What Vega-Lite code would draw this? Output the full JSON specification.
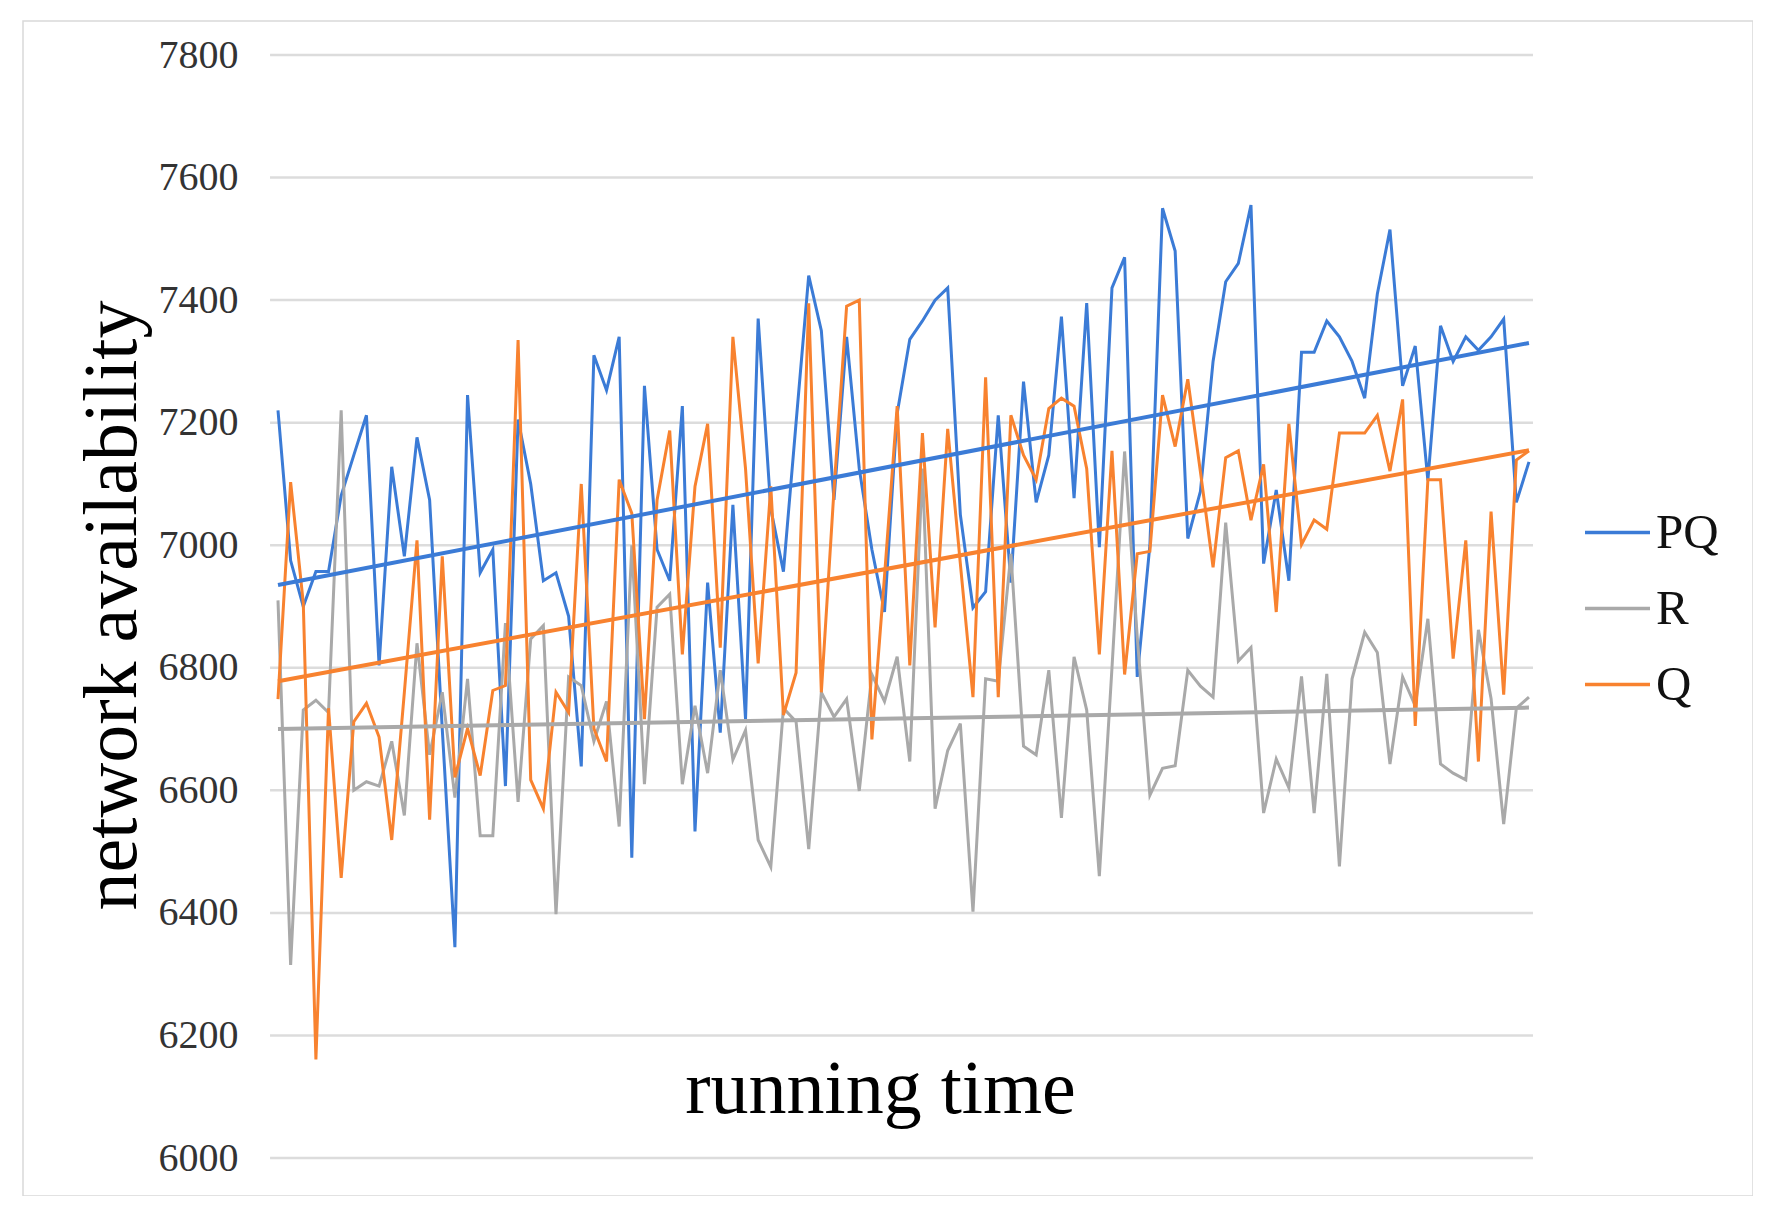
{
  "$schema": "https://vega.github.io/schema/vega-lite/v6.json",
  "autosize": {"type": "none"},
  "padding": {"left": 23, "top": 21, "right": 0, "bottom": 0},
  "width": 1730,
  "height": 1175,
  "background": "white",
  "config": {
    "view": {"stroke": "#D9D9D9", "strokeWidth": 1.5},
    "font": "Liberation Serif"
  },
  "datasets": {
    "grid": [
      {"v": 6000}, {"v": 6200}, {"v": 6400}, {"v": 6600}, {"v": 6800},
      {"v": 7000}, {"v": 7200}, {"v": 7400}, {"v": 7600}, {"v": 7800}
    ],
    "trend": [
      {"s": "PQ", "i": 0, "v": 6935}, {"s": "PQ", "i": 99, "v": 7330},
      {"s": "R", "i": 0, "v": 6700}, {"s": "R", "i": 99, "v": 6735},
      {"s": "Q", "i": 0, "v": 6778}, {"s": "Q", "i": 99, "v": 7155}
    ],
    "series": [
      {"s":"PQ","i":0,"v":7220},{"s":"PQ","i":1,"v":6975},{"s":"PQ","i":2,"v":6900},{"s":"PQ","i":3,"v":6957},{"s":"PQ","i":4,"v":6957},
      {"s":"PQ","i":5,"v":7081},{"s":"PQ","i":6,"v":7147},{"s":"PQ","i":7,"v":7212},{"s":"PQ","i":8,"v":6804},{"s":"PQ","i":9,"v":7128},
      {"s":"PQ","i":10,"v":6982},{"s":"PQ","i":11,"v":7176},{"s":"PQ","i":12,"v":7074},{"s":"PQ","i":13,"v":6700},{"s":"PQ","i":14,"v":6344},
      {"s":"PQ","i":15,"v":7245},{"s":"PQ","i":16,"v":6955},{"s":"PQ","i":17,"v":6993},{"s":"PQ","i":18,"v":6607},{"s":"PQ","i":19,"v":7205},
      {"s":"PQ","i":20,"v":7100},{"s":"PQ","i":21,"v":6942},{"s":"PQ","i":22,"v":6955},{"s":"PQ","i":23,"v":6884},{"s":"PQ","i":24,"v":6639},
      {"s":"PQ","i":25,"v":7310},{"s":"PQ","i":26,"v":7253},{"s":"PQ","i":27,"v":7340},{"s":"PQ","i":28,"v":6490},{"s":"PQ","i":29,"v":7260},
      {"s":"PQ","i":30,"v":6993},{"s":"PQ","i":31,"v":6942},{"s":"PQ","i":32,"v":7227},{"s":"PQ","i":33,"v":6533},{"s":"PQ","i":34,"v":6939},
      {"s":"PQ","i":35,"v":6694},{"s":"PQ","i":36,"v":7066},{"s":"PQ","i":37,"v":6716},{"s":"PQ","i":38,"v":7370},{"s":"PQ","i":39,"v":7059},
      {"s":"PQ","i":40,"v":6957},{"s":"PQ","i":41,"v":7200},{"s":"PQ","i":42,"v":7440},{"s":"PQ","i":43,"v":7350},{"s":"PQ","i":44,"v":7074},
      {"s":"PQ","i":45,"v":7340},{"s":"PQ","i":46,"v":7125},{"s":"PQ","i":47,"v":6993},{"s":"PQ","i":48,"v":6891},{"s":"PQ","i":49,"v":7215},
      {"s":"PQ","i":50,"v":7336},{"s":"PQ","i":51,"v":7366},{"s":"PQ","i":52,"v":7400},{"s":"PQ","i":53,"v":7420},{"s":"PQ","i":54,"v":7050},
      {"s":"PQ","i":55,"v":6898},{"s":"PQ","i":56,"v":6924},{"s":"PQ","i":57,"v":7212},{"s":"PQ","i":58,"v":6939},{"s":"PQ","i":59,"v":7267},
      {"s":"PQ","i":60,"v":7070},{"s":"PQ","i":61,"v":7147},{"s":"PQ","i":62,"v":7373},{"s":"PQ","i":63,"v":7077},{"s":"PQ","i":64,"v":7395},
      {"s":"PQ","i":65,"v":6997},{"s":"PQ","i":66,"v":7420},{"s":"PQ","i":67,"v":7470},{"s":"PQ","i":68,"v":6785},{"s":"PQ","i":69,"v":7000},
      {"s":"PQ","i":70,"v":7550},{"s":"PQ","i":71,"v":7480},{"s":"PQ","i":72,"v":7011},{"s":"PQ","i":73,"v":7088},{"s":"PQ","i":74,"v":7300},
      {"s":"PQ","i":75,"v":7430},{"s":"PQ","i":76,"v":7460},{"s":"PQ","i":77,"v":7555},{"s":"PQ","i":78,"v":6970},{"s":"PQ","i":79,"v":7090},
      {"s":"PQ","i":80,"v":6942},{"s":"PQ","i":81,"v":7315},{"s":"PQ","i":82,"v":7315},{"s":"PQ","i":83,"v":7366},{"s":"PQ","i":84,"v":7340},
      {"s":"PQ","i":85,"v":7300},{"s":"PQ","i":86,"v":7240},{"s":"PQ","i":87,"v":7410},{"s":"PQ","i":88,"v":7515},{"s":"PQ","i":89,"v":7260},
      {"s":"PQ","i":90,"v":7325},{"s":"PQ","i":91,"v":7106},{"s":"PQ","i":92,"v":7358},{"s":"PQ","i":93,"v":7300},{"s":"PQ","i":94,"v":7340},
      {"s":"PQ","i":95,"v":7318},{"s":"PQ","i":96,"v":7340},{"s":"PQ","i":97,"v":7369},{"s":"PQ","i":98,"v":7070},{"s":"PQ","i":99,"v":7136},

      {"s":"R","i":0,"v":6910},{"s":"R","i":1,"v":6315},{"s":"R","i":2,"v":6731},{"s":"R","i":3,"v":6747},{"s":"R","i":4,"v":6727},
      {"s":"R","i":5,"v":7220},{"s":"R","i":6,"v":6600},{"s":"R","i":7,"v":6614},{"s":"R","i":8,"v":6607},{"s":"R","i":9,"v":6680},
      {"s":"R","i":10,"v":6559},{"s":"R","i":11,"v":6840},{"s":"R","i":12,"v":6658},{"s":"R","i":13,"v":6760},{"s":"R","i":14,"v":6588},
      {"s":"R","i":15,"v":6782},{"s":"R","i":16,"v":6526},{"s":"R","i":17,"v":6526},{"s":"R","i":18,"v":6873},{"s":"R","i":19,"v":6581},
      {"s":"R","i":20,"v":6847},{"s":"R","i":21,"v":6869},{"s":"R","i":22,"v":6398},{"s":"R","i":23,"v":6785},{"s":"R","i":24,"v":6771},
      {"s":"R","i":25,"v":6680},{"s":"R","i":26,"v":6745},{"s":"R","i":27,"v":6541},{"s":"R","i":28,"v":7000},{"s":"R","i":29,"v":6610},
      {"s":"R","i":30,"v":6899},{"s":"R","i":31,"v":6920},{"s":"R","i":32,"v":6610},{"s":"R","i":33,"v":6738},{"s":"R","i":34,"v":6628},
      {"s":"R","i":35,"v":6796},{"s":"R","i":36,"v":6650},{"s":"R","i":37,"v":6698},{"s":"R","i":38,"v":6519},{"s":"R","i":39,"v":6475},
      {"s":"R","i":40,"v":6734},{"s":"R","i":41,"v":6712},{"s":"R","i":42,"v":6504},{"s":"R","i":43,"v":6760},{"s":"R","i":44,"v":6720},
      {"s":"R","i":45,"v":6749},{"s":"R","i":46,"v":6599},{"s":"R","i":47,"v":6789},{"s":"R","i":48,"v":6745},{"s":"R","i":49,"v":6818},
      {"s":"R","i":50,"v":6647},{"s":"R","i":51,"v":7125},{"s":"R","i":52,"v":6570},{"s":"R","i":53,"v":6665},{"s":"R","i":54,"v":6709},
      {"s":"R","i":55,"v":6402},{"s":"R","i":56,"v":6782},{"s":"R","i":57,"v":6778},{"s":"R","i":58,"v":6986},{"s":"R","i":59,"v":6672},
      {"s":"R","i":60,"v":6658},{"s":"R","i":61,"v":6796},{"s":"R","i":62,"v":6555},{"s":"R","i":63,"v":6818},{"s":"R","i":64,"v":6731},
      {"s":"R","i":65,"v":6460},{"s":"R","i":66,"v":6800},{"s":"R","i":67,"v":7153},{"s":"R","i":68,"v":6850},{"s":"R","i":69,"v":6592},
      {"s":"R","i":70,"v":6636},{"s":"R","i":71,"v":6640},{"s":"R","i":72,"v":6796},{"s":"R","i":73,"v":6770},{"s":"R","i":74,"v":6752},
      {"s":"R","i":75,"v":7037},{"s":"R","i":76,"v":6811},{"s":"R","i":77,"v":6833},{"s":"R","i":78,"v":6563},{"s":"R","i":79,"v":6651},
      {"s":"R","i":80,"v":6604},{"s":"R","i":81,"v":6786},{"s":"R","i":82,"v":6563},{"s":"R","i":83,"v":6790},{"s":"R","i":84,"v":6476},
      {"s":"R","i":85,"v":6782},{"s":"R","i":86,"v":6858},{"s":"R","i":87,"v":6825},{"s":"R","i":88,"v":6643},{"s":"R","i":89,"v":6785},
      {"s":"R","i":90,"v":6738},{"s":"R","i":91,"v":6880},{"s":"R","i":92,"v":6643},{"s":"R","i":93,"v":6628},{"s":"R","i":94,"v":6617},
      {"s":"R","i":95,"v":6862},{"s":"R","i":96,"v":6750},{"s":"R","i":97,"v":6545},{"s":"R","i":98,"v":6734},{"s":"R","i":99,"v":6752},

      {"s":"Q","i":0,"v":6749},{"s":"Q","i":1,"v":7103},{"s":"Q","i":2,"v":6906},{"s":"Q","i":3,"v":6161},{"s":"Q","i":4,"v":6734},
      {"s":"Q","i":5,"v":6457},{"s":"Q","i":6,"v":6712},{"s":"Q","i":7,"v":6742},{"s":"Q","i":8,"v":6687},{"s":"Q","i":9,"v":6519},
      {"s":"Q","i":10,"v":6760},{"s":"Q","i":11,"v":7008},{"s":"Q","i":12,"v":6552},{"s":"Q","i":13,"v":6982},{"s":"Q","i":14,"v":6621},
      {"s":"Q","i":15,"v":6701},{"s":"Q","i":16,"v":6624},{"s":"Q","i":17,"v":6763},{"s":"Q","i":18,"v":6771},{"s":"Q","i":19,"v":7335},
      {"s":"Q","i":20,"v":6617},{"s":"Q","i":21,"v":6570},{"s":"Q","i":22,"v":6760},{"s":"Q","i":23,"v":6727},{"s":"Q","i":24,"v":7100},
      {"s":"Q","i":25,"v":6701},{"s":"Q","i":26,"v":6647},{"s":"Q","i":27,"v":7107},{"s":"Q","i":28,"v":7052},{"s":"Q","i":29,"v":6716},
      {"s":"Q","i":30,"v":7074},{"s":"Q","i":31,"v":7187},{"s":"Q","i":32,"v":6822},{"s":"Q","i":33,"v":7096},{"s":"Q","i":34,"v":7198},
      {"s":"Q","i":35,"v":6833},{"s":"Q","i":36,"v":7340},{"s":"Q","i":37,"v":7125},{"s":"Q","i":38,"v":6807},{"s":"Q","i":39,"v":7096},
      {"s":"Q","i":40,"v":6723},{"s":"Q","i":41,"v":6792},{"s":"Q","i":42,"v":7395},{"s":"Q","i":43,"v":6760},{"s":"Q","i":44,"v":7090},
      {"s":"Q","i":45,"v":7390},{"s":"Q","i":46,"v":7400},{"s":"Q","i":47,"v":6683},{"s":"Q","i":48,"v":6950},{"s":"Q","i":49,"v":7227},
      {"s":"Q","i":50,"v":6804},{"s":"Q","i":51,"v":7183},{"s":"Q","i":52,"v":6866},{"s":"Q","i":53,"v":7190},{"s":"Q","i":54,"v":6970},
      {"s":"Q","i":55,"v":6752},{"s":"Q","i":56,"v":7274},{"s":"Q","i":57,"v":6752},{"s":"Q","i":58,"v":7212},{"s":"Q","i":59,"v":7147},
      {"s":"Q","i":60,"v":7107},{"s":"Q","i":61,"v":7223},{"s":"Q","i":62,"v":7240},{"s":"Q","i":63,"v":7227},{"s":"Q","i":64,"v":7125},
      {"s":"Q","i":65,"v":6822},{"s":"Q","i":66,"v":7154},{"s":"Q","i":67,"v":6789},{"s":"Q","i":68,"v":6986},{"s":"Q","i":69,"v":6990},
      {"s":"Q","i":70,"v":7245},{"s":"Q","i":71,"v":7161},{"s":"Q","i":72,"v":7271},{"s":"Q","i":73,"v":7120},{"s":"Q","i":74,"v":6964},
      {"s":"Q","i":75,"v":7143},{"s":"Q","i":76,"v":7154},{"s":"Q","i":77,"v":7041},{"s":"Q","i":78,"v":7132},{"s":"Q","i":79,"v":6891},
      {"s":"Q","i":80,"v":7198},{"s":"Q","i":81,"v":7001},{"s":"Q","i":82,"v":7041},{"s":"Q","i":83,"v":7026},{"s":"Q","i":84,"v":7183},
      {"s":"Q","i":85,"v":7183},{"s":"Q","i":86,"v":7183},{"s":"Q","i":87,"v":7212},{"s":"Q","i":88,"v":7121},{"s":"Q","i":89,"v":7238},
      {"s":"Q","i":90,"v":6705},{"s":"Q","i":91,"v":7107},{"s":"Q","i":92,"v":7107},{"s":"Q","i":93,"v":6815},{"s":"Q","i":94,"v":7008},
      {"s":"Q","i":95,"v":6647},{"s":"Q","i":96,"v":7055},{"s":"Q","i":97,"v":6756},{"s":"Q","i":98,"v":7139},{"s":"Q","i":99,"v":7154}
    ]
  },
  "layer": [
    {
      "data": {"name": "grid"},
      "mark": {"type": "rule", "color": "#DCDCDC", "strokeWidth": 2.5},
      "encoding": {
        "x": {
          "datum": -0.63, "type": "quantitative",
          "scale": {"domain": [-20.18, 116.73], "nice": false, "zero": false},
          "axis": {
            "title": "running time", "labels": false, "ticks": false, "domain": false, "grid": false,
            "titleFont": "Liberation Serif", "titleFontSize": 76, "titleFontWeight": "normal", "titleColor": "#000000",
            "titleX": 857, "titleY": -84, "titleBaseline": "alphabetic", "titleAlign": "center"
          }
        },
        "x2": {"datum": 99.32},
        "y": {
          "field": "v", "type": "quantitative",
          "scale": {"domain": [5938, 7855.5], "nice": false, "zero": false},
          "axis": {
            "title": "network availability", "values": [6000, 6200, 6400, 6600, 6800, 7000, 7200, 7400, 7600, 7800],
            "format": "d",
            "offset": -247, "ticks": false, "tickSize": 0, "domain": false, "grid": false,
            "labelPadding": 32, "labelFont": "Liberation Serif", "labelFontSize": 40, "labelColor": "#333333",
            "titleFont": "Liberation Serif", "titleFontSize": 76, "titleFontWeight": "normal", "titleColor": "#000000",
            "titleX": -158, "titleY": 584, "titleAngle": -90, "titleBaseline": "middle", "titleAlign": "center"
          }
        }
      }
    },
    {
      "data": {"name": "series"},
      "mark": {"type": "line", "strokeWidth": 3},
      "encoding": {
        "x": {"field": "i", "type": "quantitative", "title": "running time"},
        "y": {"field": "v", "type": "quantitative", "title": "network availability"},
        "color": {
          "field": "s", "type": "nominal",
          "scale": {"domain": ["PQ", "R", "Q"], "range": ["#3B7BD6", "#A9A9A9", "#F8822F"]},
          "legend": {
            "title": null, "orient": "none", "legendX": 1560, "legendY": 477, "padding": 0,
            "symbolType": "stroke", "symbolSize": 4225, "symbolStrokeWidth": 3.5,
            "labelFont": "Liberation Serif", "labelFontSize": 49, "labelColor": "#111111", "labelOffset": 4,
            "rowPadding": 16
          }
        }
      }
    },
    {
      "data": {"name": "trend"},
      "mark": {"type": "line", "strokeWidth": 4},
      "encoding": {
        "x": {"field": "i", "type": "quantitative", "title": "running time"},
        "y": {"field": "v", "type": "quantitative", "title": "network availability"},
        "color": {"field": "s", "type": "nominal", "title": null}
      }
    }
  ]
}
